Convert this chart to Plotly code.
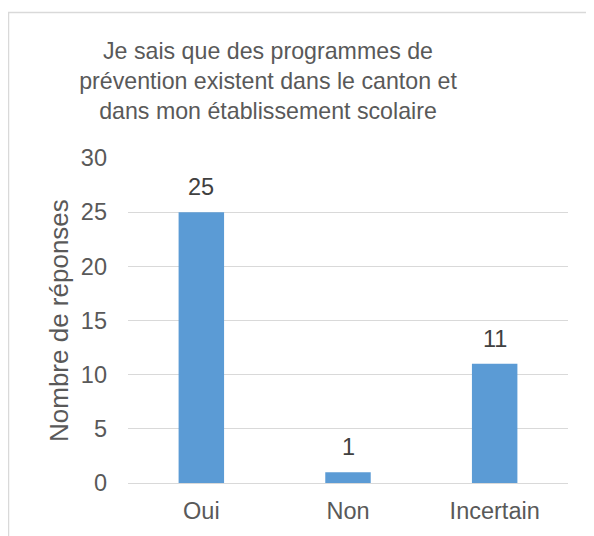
import plotly.graph_objects as go

categories = ["Oui", "Non", "Incertain"]
values = [25, 1, 11]
y_ticks = [0, 5, 10, 15, 20, 25, 30]

# page body has an 8px margin: screen = figure + 8
OFF = 8
W, H = 594, 536
L = 128 - OFF
T = 158 - OFF
R = W - (568 - OFF)
B = H - (483 - OFF)
pw = W - L - R
ph = H - T - B

def px_x(screen):
    return (screen - OFF - L) / pw

def px_y(screen):
    return (H - B - (screen - OFF)) / ph

text_color = "#595959"
label_color = "#404040"
font_family = "Liberation Sans"

fig = go.Figure()
fig.add_trace(go.Bar(
    x=categories, y=values,
    marker=dict(color="#5B9BD5", line=dict(width=0)),
    hoverinfo="x+y",
))

for c, v in zip(categories, values):
    fig.add_annotation(x=c, y=v, text=str(v), showarrow=False,
                       yanchor="middle", yshift=25,
                       font=dict(size=23.5, color=label_color, family=font_family))

# y axis title
fig.add_annotation(xref="paper", yref="paper", x=px_x(59), y=px_y(321),
                   text="Nombre de réponses", textangle=-90, showarrow=False,
                   xanchor="center", yanchor="middle",
                   font=dict(size=26, color=text_color, family=font_family))

fig.add_shape(type="rect", xref="paper", yref="paper",
              x0=px_x(8.5), x1=px_x(620), y0=px_y(12.5), y1=px_y(580),
              line=dict(color="#D9D9D9", width=1.5), fillcolor="rgba(0,0,0,0)",
              layer="below")

fig.update_layout(
    width=W, height=H,
    margin=dict(l=L, r=R, t=T, b=B),
    paper_bgcolor="white", plot_bgcolor="white",
    bargap=0.69,
    showlegend=False,
    font=dict(family=font_family, color=text_color, size=23.5),
    title=dict(
        text="Je sais que des programmes de<br>prévention existent dans le canton et<br>dans mon établissement scolaire",
        x=px_x(268), xref="paper", xanchor="center",
        y=1 - 50.5 / H, yref="container", yanchor="top",
        font=dict(size=23.2, color=text_color, family=font_family),
    ),
    xaxis=dict(
        showgrid=False, showline=False, ticks="",
        tickfont=dict(size=23.5, color=text_color, family=font_family),
        ticklabelstandoff=11,
    ),
    yaxis=dict(
        range=[0, 30], tickvals=y_ticks,
        showgrid=True, gridcolor="#D9D9D9", gridwidth=1.3,
        zeroline=True, zerolinecolor="#D9D9D9", zerolinewidth=1.3,
        showline=False, ticks="",
        tickfont=dict(size=23.5, color=text_color, family=font_family),
        ticklabelstandoff=20,
    ),
)

fig.write_html("out.html")
